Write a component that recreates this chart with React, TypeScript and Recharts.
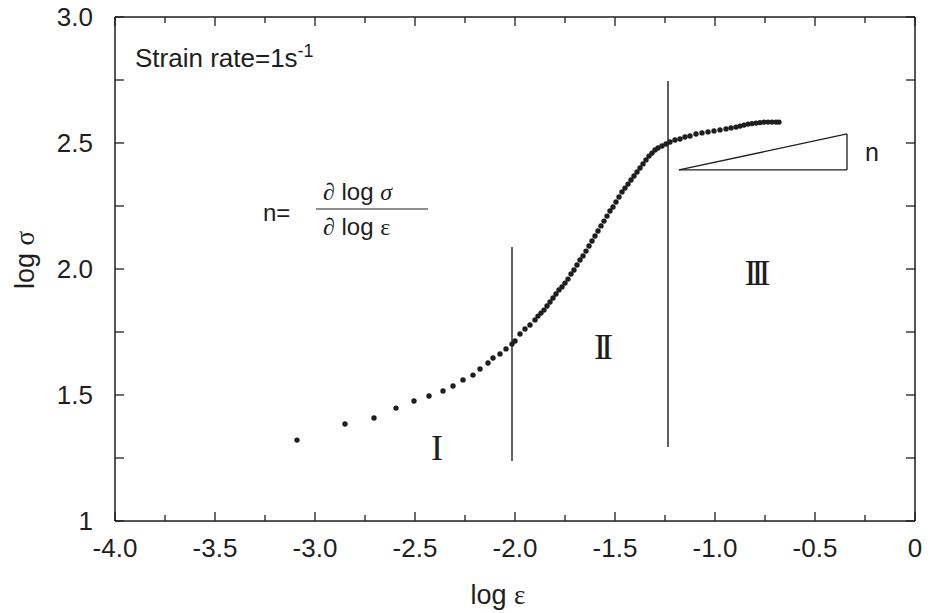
import React from "react";
import {
  ScatterChart,
  Scatter,
  XAxis,
  YAxis,
  ReferenceLine,
} from "recharts";

// log strain (x) and log stress (y)
const logStrain = [
  -3.09, -2.85, -2.705, -2.595, -2.505, -2.43, -2.36, -2.31, -2.26, -2.21,
  -2.175, -2.135, -2.11, -2.075, -2.045, -2.015, -2.0, -1.975, -1.95, -1.925,
  -1.9, -1.885, -1.87, -1.855, -1.84, -1.825, -1.81, -1.795, -1.78, -1.765,
  -1.75, -1.735, -1.72, -1.705, -1.69, -1.675, -1.66, -1.645, -1.63, -1.615,
  -1.6, -1.585, -1.57, -1.555, -1.54, -1.525, -1.51, -1.495, -1.48, -1.465,
  -1.45, -1.435, -1.42, -1.405, -1.39, -1.375, -1.36, -1.345, -1.33, -1.315,
  -1.3, -1.285, -1.265, -1.245, -1.225, -1.2, -1.175, -1.15, -1.125, -1.095,
  -1.065, -1.035, -1.005, -0.975, -0.945, -0.92, -0.895, -0.875, -0.855, -0.835,
  -0.815, -0.795, -0.775, -0.755, -0.735, -0.715, -0.695, -0.68,
];
const logStress = [
  1.321, 1.385, 1.409, 1.448, 1.476, 1.496, 1.516, 1.536, 1.56, 1.579,
  1.603, 1.627, 1.647, 1.663, 1.683, 1.702, 1.714, 1.742, 1.762, 1.778,
  1.798, 1.813, 1.825, 1.837, 1.853, 1.869, 1.885, 1.901, 1.917, 1.929,
  1.944, 1.96, 1.98, 1.996, 2.016, 2.036, 2.052, 2.071, 2.091, 2.111,
  2.131, 2.151, 2.171, 2.19, 2.21, 2.23, 2.246, 2.266, 2.286, 2.306,
  2.321, 2.337, 2.353, 2.369, 2.385, 2.401, 2.417, 2.433, 2.448, 2.46,
  2.472, 2.48, 2.488, 2.496, 2.504, 2.512, 2.516, 2.524, 2.528, 2.536,
  2.54, 2.544, 2.548, 2.552, 2.556, 2.56, 2.563, 2.567, 2.571, 2.575,
  2.577, 2.579, 2.581, 2.583, 2.583, 2.583, 2.583, 2.583,
];

// region boundaries (vertical lines)
const boundaryX = [-2.015, -1.235];
const boundaryLow = [1.238, 1.294];
const boundaryHigh = [2.087, 2.746];

// slope triangle corners
const triangleX = [-1.18, -0.34, -0.34];
const triangleY = [2.393, 2.393, 2.536];

const xTicks = [
  -4, -3.75, -3.5, -3.25, -3, -2.75, -2.5, -2.25, -2, -1.75, -1.5, -1.25, -1,
  -0.75, -0.5, -0.25, 0,
];
const yTicks = [1, 1.25, 1.5, 1.75, 2, 2.25, 2.5, 2.75, 3];

const data = logStrain.map((x, i) => ({ x, y: logStress[i] }));

const INK = "#1e1e1e";
const SANS = "'Liberation Sans', Arial, Helvetica, sans-serif";
const SERIF = "'Liberation Serif', 'Times New Roman', serif";
const TINY = 0.01;

const isMajor = (v: number) => Math.abs(v * 2 - Math.round(v * 2)) < 1e-6;
const fmtX = (v: number) => (v === 0 ? "0" : v.toFixed(1));
const fmtY = (v: number) => (v === 1 ? "1" : v.toFixed(1));

const BottomTick = (props: any) => {
  const { x, y, payload } = props;
  const v = payload.value;
  const major = isMajor(v);
  return (
    <g>
      <line x1={x} y1={y} x2={x} y2={y - (major ? 9 : 6)} stroke={INK} strokeWidth={1.3} />
      {major && (
        <text x={x} y={y + 36} textAnchor="middle" fontSize={26} fontFamily={SANS} fill={INK}>
          {fmtX(v)}
        </text>
      )}
    </g>
  );
};

const TopTick = (props: any) => {
  const { x, y, payload } = props;
  const major = isMajor(payload.value);
  return <line x1={x} y1={y} x2={x} y2={y + (major ? 9 : 6)} stroke={INK} strokeWidth={1.3} />;
};

const LeftTick = (props: any) => {
  const { x, y, payload } = props;
  const v = payload.value;
  return (
    <g>
      <line x1={x} y1={y} x2={x + 9} y2={y} stroke={INK} strokeWidth={1.3} />
      {isMajor(v) && (
        <text x={x - 22} y={y + 9} textAnchor="end" fontSize={26} fontFamily={SANS} fill={INK}>
          {fmtY(v)}
        </text>
      )}
    </g>
  );
};

const RightTick = (props: any) => {
  const { x, y } = props;
  return <line x1={x} y1={y} x2={x - 9} y2={y} stroke={INK} strokeWidth={1.3} />;
};

const Dot = (props: any) => {
  const { cx, cy } = props;
  return <circle cx={cx} cy={cy} r={2.7} fill={INK} />;
};

export default function App() {
  return (
    <div style={{ position: "absolute", left: 0, top: 0, background: "#fff" }}>
      <ScatterChart
        width={935}
        height={613}
        margin={{ top: 16, right: 19, left: 0, bottom: 0 }}
      >
        <XAxis
          type="number"
          dataKey="x"
          domain={[-4, 0]}
          ticks={xTicks}
          interval={0}
          height={92}
          tickSize={TINY}
          tickMargin={TINY}
          tickLine={false}
          tick={<BottomTick />}
          axisLine={{ stroke: INK, strokeWidth: 1.5 }}
          allowDataOverflow
        />
        <XAxis
          xAxisId="top"
          orientation="top"
          type="number"
          dataKey="x"
          domain={[-4, 0]}
          ticks={xTicks}
          interval={0}
          height={1}
          tickSize={TINY}
          tickMargin={TINY}
          tickLine={false}
          tick={<TopTick />}
          axisLine={{ stroke: INK, strokeWidth: 1.5 }}
          allowDataOverflow
        />
        <YAxis
          type="number"
          dataKey="y"
          domain={[1, 3]}
          ticks={yTicks}
          interval={0}
          width={115}
          tickSize={TINY}
          tickMargin={TINY}
          tickLine={false}
          tick={<LeftTick />}
          axisLine={{ stroke: INK, strokeWidth: 1.5 }}
          allowDataOverflow
        />
        <YAxis
          yAxisId="right"
          orientation="right"
          type="number"
          dataKey="y"
          domain={[1, 3]}
          ticks={yTicks}
          interval={0}
          width={1}
          tickSize={TINY}
          tickMargin={TINY}
          tickLine={false}
          tick={<RightTick />}
          axisLine={{ stroke: INK, strokeWidth: 1.5 }}
          allowDataOverflow
        />

        {boundaryX.map((bx, i) => (
          <ReferenceLine
            key={"b" + i}
            segment={[
              { x: bx, y: boundaryLow[i] },
              { x: bx, y: boundaryHigh[i] },
            ]}
            stroke={INK}
            strokeWidth={1.4}
          />
        ))}
        {triangleX.map((tx, i) => {
          const j = (i + 1) % triangleX.length;
          return (
            <ReferenceLine
              key={"t" + i}
              segment={[
                { x: tx, y: triangleY[i] },
                { x: triangleX[j], y: triangleY[j] },
              ]}
              stroke={INK}
              strokeWidth={1.3}
            />
          );
        })}

        <Scatter data={data} shape={<Dot />} isAnimationActive={false} />
        {/* same points on the mirror axes so the top/right frame gets drawn */}
        <Scatter
          xAxisId="top"
          yAxisId="right"
          data={data}
          shape={() => <g />}
          isAnimationActive={false}
        />

        {/* annotations */}
        <text x={135} y={67} fontSize={26} fontFamily={SANS} fill={INK}>
          Strain rate=1s
          <tspan dy={-10} fontSize={18}>-1</tspan>
        </text>
        <text x={263} y={221} fontSize={24} fontFamily={SANS} fill={INK}>
          n=
        </text>
        <text x={323} y={200} fontSize={24} fontFamily={SANS} fill={INK}>
          <tspan fontFamily={SERIF} fontStyle="italic">∂</tspan> log{" "}
          <tspan fontFamily={SERIF} fontStyle="italic">σ</tspan>
        </text>
        <line x1={316} y1={209} x2={428} y2={209} stroke={INK} strokeWidth={1.2} />
        <text x={323} y={235} fontSize={24} fontFamily={SANS} fill={INK}>
          <tspan fontFamily={SERIF} fontStyle="italic">∂</tspan> log{" "}
          <tspan fontFamily={SERIF}>ε</tspan>
        </text>
        <text x={872} y={161} fontSize={25} fontFamily={SANS} fill={INK} textAnchor="middle">
          n
        </text>
        <text x={437} y={460} fontSize={36} fontFamily={SERIF} fill={INK} textAnchor="middle">
          I
        </text>
        <text x={601} y={359} fontSize={36} fontFamily={SERIF} fill={INK} textAnchor="middle" letterSpacing={-5}>
          II
        </text>
        <text x={755} y={285} fontSize={36} fontFamily={SERIF} fill={INK} textAnchor="middle" letterSpacing={-5}>
          III
        </text>
        <text x={498} y={604} fontSize={27} fontFamily={SANS} fill={INK} textAnchor="middle">
          log <tspan fontFamily={SERIF}>ε</tspan>
        </text>
        <text
          x={0}
          y={0}
          transform="translate(34 260) rotate(-90)"
          fontSize={27}
          fontFamily={SANS}
          fill={INK}
          textAnchor="middle"
        >
          log <tspan fontFamily={SERIF}>σ</tspan>
        </text>
      </ScatterChart>
    </div>
  );
}
